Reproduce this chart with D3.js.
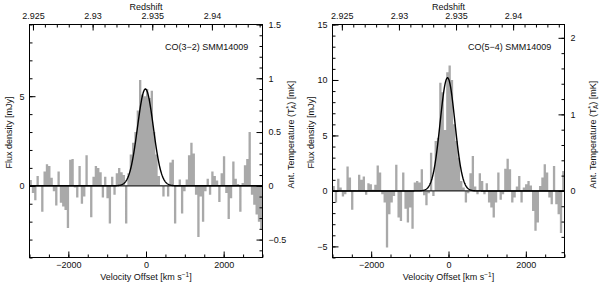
<!DOCTYPE html>
<html>
<head>
<meta charset="utf-8">
<script src="https://cdn.jsdelivr.net/npm/d3@7"></script>
<style>
body { margin: 0; background: #fff; }
text { font-family: "Liberation Sans", Arial, sans-serif; font-size: 9px; fill: #111; }
</style>
</head>
<body>
<svg id="chart" width="600" height="283"></svg>
<script>
// spectra binned in 60 km/s channels, starting at -3000 km/s
var binStart = -3000
var binWidth = 60

// CO(3-2) flux density per channel [mJy]
var co32Flux = [
  0.33,-0.4,-0.8,0.55,0.05,-1.45,0.8,1.2,1.1,0.45,
  -0.3,-1.1,0.8,-0.95,-1.15,-1.35,-2.35,1.45,1.5,-0.1,
  -0.65,1.1,-1.0,-0.6,1.7,0.05,-1.75,0.5,1.1,1.0,
  0.75,-0.65,0.5,-0.7,-2.1,0.5,-0.5,0.7,1.0,0.75,
  0.6,-2.1,0.7,1.75,2.4,3.0,4.2,5.9,5.1,5.0,
  5.4,4.9,5.3,3.0,1.75,0.55,0.05,-0.6,0.05,-0.6,
  1.3,1.45,-2.1,0.05,0.35,-1.55,-0.3,0.35,1.7,2.4,
  1.8,-0.5,-2.85,-0.6,-2.0,-0.3,0.4,-0.5,0.8,0.55,
  0.3,-0.9,0.7,1.65,-0.4,-1.85,-0.7,1.35,0.4,0.1,
  -1.45,0.15,1.15,1.5,3.0,-0.5,-1.05,-1.6,-2.0,-2.4
]

// CO(5-4) flux density per channel [mJy]
var co54Flux = [
  0.45,-1.05,1.1,0.3,-0.5,-0.3,2.2,1.2,-1.7,0.05,
  0.0,1.45,1.0,1.3,-0.35,0.7,0.6,0.1,0.55,2.3,
  1.65,-0.3,-1.05,-5.1,-2.1,-1.05,-0.45,2.35,-2.4,-2.7,
  1.65,-1.6,-2.85,-1.5,-3.4,0.75,0.9,0.75,1.95,-0.4,
  -1.3,-0.2,3.45,-0.45,4.5,4.8,9.75,8.9,5.5,10.7,
  11.3,10.0,6.0,4.5,3.0,0.9,0.3,-1.05,-0.2,1.6,
  3.15,0.4,-0.3,1.6,0.9,-0.3,0.7,-1.05,-1.5,-2.4,
  -1.05,1.65,-0.8,-0.3,2.0,2.9,1.95,-1.05,-0.6,0.4,
  1.35,-1.05,0.3,0.6,0.9,0.5,-1.8,-3.6,-2.85,0.45,
  1.2,2.4,1.65,-0.6,-1.2,2.25,-1.2,-2.1,-3.8,1.8
]

// gaussian fits: peak [mJy], centre [km/s], FWHM [km/s]
var co32Fit = [5.4, -15, 480]
var co54Fit = [10.2, -25, 450]

// tick labels
var velTicks = [-2000, 0, 2000]
var zTicks = [2.925, 2.93, 2.935, 2.94]
var co32FluxTicks = [0, 5]
var co32TempTicks = [-0.5, 0, 0.5, 1, 1.5]
var co54FluxTicks = [-5, 0, 5, 10, 15]
var co54TempTicks = [0, 1, 2]

var makeTranslateString = function(x, y)
{
    return "translate(" + x + "," + y + ")";
}

var cleanAxis = function(sel)
{
    sel.attr("font-size", null).attr("font-family", null)
    sel.select(".domain").remove()
}

var drawPanel = function(svg, p)
{
    var w = p.width, h = p.height
    var g = svg.append("g").attr("transform", makeTranslateString(p.left, p.top))

    var x = d3.scaleLinear().domain([-3000, 3000]).range([0, w])
    var y = d3.scaleLinear().domain(p.fluxDomain).range([h, 0])
    var yT = d3.scaleLinear()
        .domain([p.fluxDomain[0] / p.jyPerK, p.fluxDomain[1] / p.jyPerK])
        .range([h, 0])
    var xz = d3.scaleLinear().domain(p.zDomain).range([0, w])

    // histogram
    var pts = p.flux.map(function(f, i) { return {v: binStart + i * binWidth, f: f} })
    pts.push({v: binStart + p.flux.length * binWidth, f: p.flux[p.flux.length - 1]})
    var area = d3.area()
        .curve(d3.curveStepAfter)
        .x(function(d) { return x(d.v) })
        .y0(y(0))
        .y1(function(d) { return y(d.f) })
    g.append("path").datum(pts).attr("d", area).attr("fill", "#a9a9a9")

    // zero line
    g.append("line")
        .attr("x1", 0).attr("x2", w)
        .attr("y1", y(0)).attr("y2", y(0))
        .attr("stroke", "#222").attr("stroke-width", 1.2)

    // gaussian fit
    var sig = p.fit[2] / 2.3548
    var gv = d3.range(-3000, 3001, 10)
    var line = d3.line()
        .x(function(v) { return x(v) })
        .y(function(v) { return y(p.fit[0] * Math.exp(-0.5 * Math.pow((v - p.fit[1]) / sig, 2))) })
    g.append("path").datum(gv).attr("d", line)
        .attr("fill", "none").attr("stroke", "#000").attr("stroke-width", 1.4)

    // axes: major + minor ticks pointing inward
    var fmt = d3.format("")
    g.append("g")
        .call(d3.axisLeft(y).tickValues(p.fluxTicks).tickSizeInner(-6).tickSizeOuter(0).tickPadding(5).tickFormat(fmt))
        .call(cleanAxis)
    g.append("g")
        .call(d3.axisLeft(y).tickValues(d3.range(Math.ceil(p.fluxDomain[0]), p.fluxDomain[1] + 0.01, 1)).tickSize(-3).tickFormat(""))
        .call(cleanAxis)

    g.append("g").attr("transform", makeTranslateString(w, 0))
        .call(d3.axisRight(yT).tickValues(p.tempTicks).tickSizeInner(-6).tickSizeOuter(0).tickPadding(6).tickFormat(fmt))
        .call(cleanAxis)
    g.append("g").attr("transform", makeTranslateString(w, 0))
        .call(d3.axisRight(yT).tickValues(d3.range(-2, 3, p.tempMinor).filter(function(d) { return d >= yT.domain()[0] - 1e-6 && d <= yT.domain()[1] + 1e-6 })).tickSize(-3).tickFormat(""))
        .call(cleanAxis)

    g.append("g").attr("transform", makeTranslateString(0, h))
        .call(d3.axisBottom(x).tickValues(velTicks).tickSizeInner(-6).tickSizeOuter(0).tickPadding(4).tickFormat(fmt))
        .call(cleanAxis)
    g.append("g").attr("transform", makeTranslateString(0, h))
        .call(d3.axisBottom(x).tickValues(d3.range(-3000, 3001, 500)).tickSize(-3).tickFormat(""))
        .call(cleanAxis)

    g.append("g")
        .call(d3.axisTop(xz).tickValues(zTicks).tickSizeInner(-6).tickSizeOuter(0).tickPadding(6)
            .tickFormat(function(d) { return fmt(+d.toFixed(3)) }))
        .call(cleanAxis)
    g.append("g")
        .call(d3.axisTop(xz).tickValues(d3.range(2.925, 2.9445, 0.001).filter(function(d) { return d >= p.zDomain[0] && d <= p.zDomain[1] })).tickSize(-3).tickFormat(""))
        .call(cleanAxis)

    // frame
    g.append("rect").attr("width", w).attr("height", h)
        .attr("fill", "none").attr("stroke", "#000").attr("stroke-width", 1)

    // labels
    g.append("text").text("Redshift")
        .attr("text-anchor", "middle").attr("x", w / 2).attr("y", -14.5)

    var vl = g.append("text").attr("text-anchor", "middle").attr("x", w / 2).attr("y", h + 22.5)
    vl.append("tspan").text("Velocity Offset  [km s")
    vl.append("tspan").text("−1").attr("dy", -3.5).style("font-size", "6.5px")
    vl.append("tspan").text("]").attr("dy", 3.5)

    g.append("text").text("Flux density [mJy]")
        .attr("text-anchor", "middle")
        .attr("transform", makeTranslateString(p.fluxLabelX, 108) + " rotate(-90)")

    var tl = g.append("text").attr("text-anchor", "middle")
        .attr("transform", makeTranslateString(w + p.tempLabelDx, 110) + " rotate(-90)")
    tl.append("tspan").text("Ant. Temperature (T")
    tl.append("tspan").text("*").attr("dy", -3).style("font-size", "6.5px")
    tl.append("tspan").text("A").attr("dx", -3).attr("dy", 5.5).style("font-size", "6.5px")
    tl.append("tspan").text(") [mK]").attr("dy", -2.5)

    g.append("text").text(p.title)
        .attr("x", p.titleX).attr("y", 25.5)
}

var svg = d3.select("#chart")

drawPanel(svg, {
    left: 29.5, top: 24.5, width: 233, height: 233,
    flux: co32Flux, fit: co32Fit,
    fluxDomain: [-4, 9], jyPerK: 6,
    fluxTicks: co32FluxTicks, tempTicks: co32TempTicks, tempMinor: 0.1,
    zDomain: [2.92471, 2.94424],
    fluxLabelX: -17.5, tempLabelDx: 31,
    title: "CO(3−2)  SMM14009", titleX: 135.5
})

drawPanel(svg, {
    left: 332.5, top: 24.5, width: 232, height: 233,
    flux: co54Flux, fit: co54Fit,
    fluxDomain: [-6, 15], jyPerK: 6.9,
    fluxTicks: co54FluxTicks, tempTicks: co54TempTicks, tempMinor: 0.2,
    zDomain: [2.92418, 2.9445],
    fluxLabelX: -19, tempLabelDx: 31,
    title: "CO(5−4)  SMM14009", titleX: 135.5
})
</script>
</body>
</html>
